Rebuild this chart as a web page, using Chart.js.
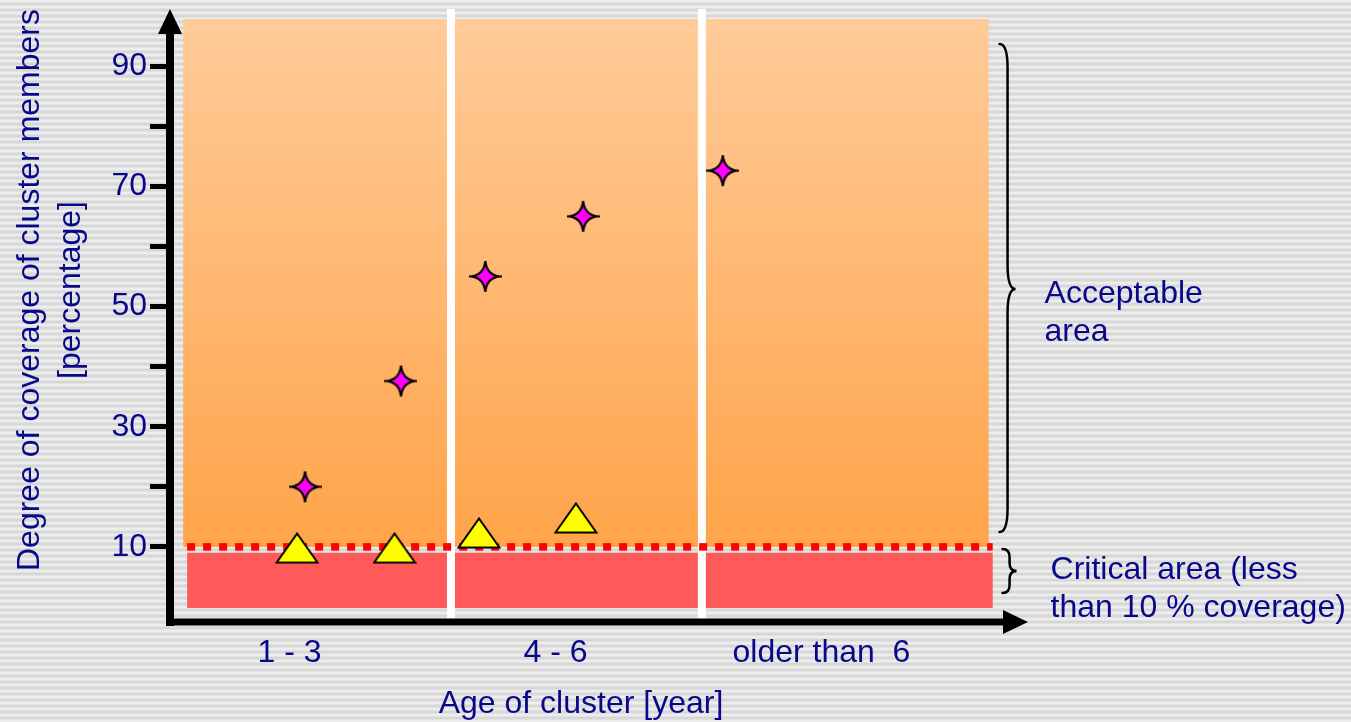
<!DOCTYPE html>
<html>
<head>
<meta charset="utf-8">
<script src="https://cdn.jsdelivr.net/npm/chart.js@4.4.1/dist/chart.umd.min.js"></script>
<style>
  html, body {
    margin: 0; padding: 0; width: 1351px; height: 722px; overflow: hidden;
    background: repeating-linear-gradient(to bottom, #ededed 0px, #ededed 2px, #d7d7d7 3px, #d7d7d7 5px, #ededed 6px);
  }
  #c { display: block; }
</style>
</head>
<body>
<canvas id="c" width="1351" height="722"></canvas>
<script>
// Age groups along the horizontal axis (years)
const ageGroups = ['1 - 3', '4 - 6', 'older than  6'];
const ageGroupCenters = [1.57, 4.75, 7.93];
const groupBoundaries = [3.5, 6.5];

// Vertical axis ticks (coverage in %)
const yTickValues = [10, 20, 30, 40, 50, 60, 70, 80, 90];
const yTickLabels = ['10', '', '30', '', '50', '', '70', '', '90'];

// Coverage of cluster members, magenta stars
const starAges = [1.755, 2.902, 3.91, 5.08, 6.75];
const starCoverage = [20, 37.6, 55, 65, 72.6];

// Coverage of cluster members, yellow triangles
const triangleAges = [1.66, 2.825, 3.835, 4.994];
const triangleCoverage = [9.8, 9.8, 12.3, 14.8];

// Critical coverage threshold (%)
const criticalLimit = 10;

const TEXT_COLOR = '#08088a';
const FONT_FAMILY = "'Liberation Sans', Arial, Helvetica, sans-serif";
const FONT_SIZE = 32;

// Four-pointed magenta star marker
function makeStar() {
  const c = document.createElement('canvas');
  c.width = 33; c.height = 33;
  const g = c.getContext('2d');
  const cx = 16.5, cy = 16.5, rx = 14.5, ry = 15.5, k = 1.4;
  g.beginPath();
  g.moveTo(cx, cy - ry);
  g.quadraticCurveTo(cx + k, cy - k, cx + rx, cy);
  g.quadraticCurveTo(cx + k, cy + k, cx, cy + ry);
  g.quadraticCurveTo(cx - k, cy + k, cx - rx, cy);
  g.quadraticCurveTo(cx - k, cy - k, cx, cy - ry);
  g.closePath();
  g.fillStyle = '#ff00ff';
  g.fill();
  g.lineWidth = 2.2;
  g.lineJoin = 'miter';
  g.miterLimit = 10;
  g.strokeStyle = '#000';
  g.stroke();
  return c;
}

// Yellow triangle marker
function makeTriangle() {
  const c = document.createElement('canvas');
  c.width = 44; c.height = 32;
  const g = c.getContext('2d');
  g.beginPath();
  g.moveTo(1.5, 30.5);
  g.lineTo(22, 1.5);
  g.lineTo(42.5, 30.5);
  g.closePath();
  g.fillStyle = '#ffff00';
  g.fill();
  g.lineWidth = 2;
  g.lineJoin = 'miter';
  g.strokeStyle = '#000';
  g.stroke();
  return c;
}

function drawBrace(ctx, xEdge, xMid, xTip, yTop, yTip, yBot, r) {
  ctx.beginPath();
  ctx.moveTo(xEdge, yTop);
  ctx.quadraticCurveTo(xMid, yTop, xMid, yTop + r);
  ctx.lineTo(xMid, yTip - r);
  ctx.quadraticCurveTo(xMid, yTip, xTip, yTip);
  ctx.quadraticCurveTo(xMid, yTip, xMid, yTip + r);
  ctx.lineTo(xMid, yBot - r);
  ctx.quadraticCurveTo(xMid, yBot, xEdge, yBot);
  ctx.stroke();
}

// Background zones, separators and threshold line
const zonesPlugin = {
  id: 'zones',
  beforeDatasetsDraw(chart) {
    const { ctx, chartArea } = chart;
    const X = v => chart.scales.x.getPixelForValue(v);
    const Y = v => chart.scales.y.getPixelForValue(v);
    ctx.save();

    // acceptable area (orange gradient)
    const oy0 = Y(97.83), oy1 = Y(criticalLimit);
    const grad = ctx.createLinearGradient(0, oy0, 0, oy1);
    grad.addColorStop(0, '#ffcb99');
    grad.addColorStop(1, '#ffa449');
    ctx.fillStyle = grad;
    ctx.fillRect(X(0.297), oy0, X(9.93) - X(0.297), oy1 - oy0);

    // critical area (red)
    ctx.fillStyle = '#ff5a5a';
    const ry0 = Y(9.03), ry1 = Y(-0.17);
    ctx.fillRect(X(0.345), ry0, X(9.978) - X(0.345), ry1 - ry0);

    // white separators between age groups
    ctx.strokeStyle = '#ffffff';
    ctx.lineWidth = 8;
    groupBoundaries.forEach(b => {
      ctx.beginPath();
      ctx.moveTo(X(b), chartArea.top);
      ctx.lineTo(X(b), chartArea.bottom - 2);
      ctx.stroke();
    });

    // dotted threshold line
    ctx.strokeStyle = '#ff0000';
    ctx.lineWidth = 7.5;
    ctx.setLineDash([8, 8]);
    ctx.beginPath();
    ctx.moveTo(X(0.345), Y(criticalLimit));
    ctx.lineTo(X(9.978), Y(criticalLimit));
    ctx.stroke();
    ctx.setLineDash([]);

    // axes with arrow heads
    ctx.strokeStyle = '#000';
    ctx.fillStyle = '#000';
    const ax = chartArea.left, ay = chartArea.bottom;
    ctx.lineWidth = 8;
    ctx.beginPath();
    ctx.moveTo(ax, ay + 4);
    ctx.lineTo(ax, chartArea.top + 22);
    ctx.stroke();
    ctx.beginPath();
    ctx.moveTo(ax, chartArea.top);
    ctx.lineTo(ax - 12, chartArea.top + 25);
    ctx.lineTo(ax + 12, chartArea.top + 25);
    ctx.closePath();
    ctx.fill();

    ctx.lineWidth = 7;
    ctx.beginPath();
    ctx.moveTo(ax - 4, ay);
    ctx.lineTo(chartArea.right - 22, ay);
    ctx.stroke();
    ctx.beginPath();
    ctx.moveTo(chartArea.right, ay);
    ctx.lineTo(chartArea.right - 25, ay - 12);
    ctx.lineTo(chartArea.right - 25, ay + 12);
    ctx.closePath();
    ctx.fill();

    ctx.restore();
  },
  afterDraw(chart) {
    const { ctx } = chart;
    const Y = v => chart.scales.y.getPixelForValue(v);
    const X = v => chart.scales.x.getPixelForValue(v);
    ctx.save();

    // braces marking the two areas
    ctx.strokeStyle = '#000';
    ctx.lineWidth = 2.5;
    ctx.lineCap = 'round';
    const bx = X(10.06);
    drawBrace(ctx, bx, bx + 8, bx + 16, Y(93.68), Y(52.9), Y(12.48), 24);
    drawBrace(ctx, bx + 3, bx + 10, bx + 17, Y(9.65), Y(5.99), Y(2.33), 8);

    // texts
    ctx.fillStyle = TEXT_COLOR;
    ctx.font = FONT_SIZE + 'px ' + FONT_FAMILY;
    ctx.textBaseline = 'middle';
    ctx.textAlign = 'left';
    ctx.fillText('Acceptable', bx + 45, Y(52.1));
    ctx.fillText('area', bx + 45, Y(45.8));
    ctx.fillText('Critical area (less', bx + 51, Y(6.2));
    ctx.fillText('than 10 % coverage)', bx + 51, Y(-0.12));

    // axis titles
    ctx.textAlign = 'center';
    ctx.fillText('Age of cluster [year]', 581, 704);
    ctx.save();
    ctx.translate(30, 290);
    ctx.rotate(-Math.PI / 2);
    ctx.fillText('Degree of coverage of cluster members', 0, 0);
    ctx.restore();
    ctx.save();
    ctx.translate(71, 290);
    ctx.rotate(-Math.PI / 2);
    ctx.fillText('[percentage]', 0, 0);
    ctx.restore();

    ctx.restore();
  }
};

const starImg = makeStar();
const triImg = makeTriangle();

const font = { family: FONT_FAMILY, size: FONT_SIZE };

new Chart(document.getElementById('c'), {
  type: 'scatter',
  data: {
    datasets: [
      {
        label: 'Triangles',
        data: triangleAges.map((x, i) => ({ x, y: triangleCoverage[i] })),
        pointStyle: triImg,
        pointRadius: 12,
        pointHoverRadius: 12
      },
      {
        label: 'Stars',
        data: starAges.map((x, i) => ({ x, y: starCoverage[i] })),
        pointStyle: starImg,
        pointRadius: 12,
        pointHoverRadius: 12
      }
    ]
  },
  options: {
    responsive: false,
    animation: false,
    events: [],
    layout: { autoPadding: false, padding: { top: 9, right: 323, left: 0, bottom: 0 } },
    plugins: { legend: { display: false }, tooltip: { enabled: false } },
    scales: {
      x: {
        type: 'linear',
        min: 0.14,
        max: 10.4,
        afterFit(s) { s.height = 100; s.paddingLeft = 0; s.paddingRight = 0; },
        afterBuildTicks(s) { s.ticks = ageGroupCenters.map(v => ({ value: v })); },
        ticks: {
          callback: (v, i) => ageGroups[i],
          font, color: TEXT_COLOR, padding: 12, maxRotation: 0, autoSkip: false
        },
        grid: { display: false, drawTicks: false },
        border: { display: false }
      },
      y: {
        min: -2.5,
        max: 99.5,
        afterFit(s) { s.width = 170; s.paddingTop = 0; s.paddingBottom = 0; },
        afterBuildTicks(s) { s.ticks = yTickValues.map(v => ({ value: v })); },
        ticks: {
          callback: (v, i) => yTickLabels[i],
          font, color: TEXT_COLOR, padding: 3, autoSkip: false
        },
        grid: { drawOnChartArea: false, drawTicks: true, tickLength: 20, tickWidth: 5, tickColor: '#000' },
        border: { display: false }
      }
    }
  },
  plugins: [zonesPlugin]
});
</script>
</body>
</html>
